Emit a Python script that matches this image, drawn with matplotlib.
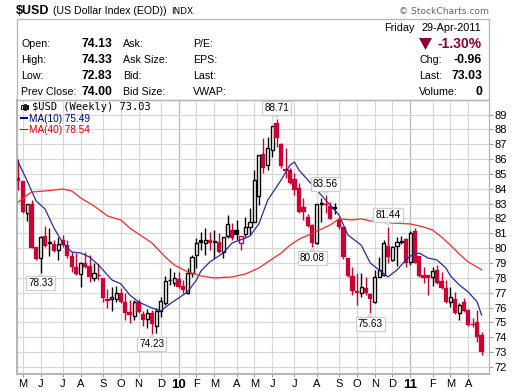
import matplotlib
matplotlib.use('Agg')

import matplotlib.pyplot as plt
from matplotlib.patches import Polygon, Rectangle

plt.rcParams['font.family'] = ['Liberation Sans', 'DejaVu Sans']

# Weekly candles, May 2009 - Apr 2011
opens = [84.72, 84.52, 82.38, 82.97, 80.08, 79.33, 80.8, 80.35, 80.28, 79.88, 80.55, 80.22, 79.47, 78.73, 78.26,
         79.0, 78.8, 77.99, 78.22, 77.99, 76.58, 76.58, 76.58, 76.98, 76.37, 75.7, 75.43, 76.37, 75.57, 75.23,
         75.63, 74.76, 75.77, 76.3, 77.82, 77.65, 77.92, 77.45, 76.98, 78.33, 79.54, 80.55, 80.36, 80.55, 80.43,
         80.41, 79.74, 80.82, 81.22, 81.22, 80.35, 80.95, 81.42, 81.76, 83.51, 86.34, 85.6, 86.61, 88.43, 87.02,
         85.33, 85.26, 84.66, 84.05, 82.77, 82.1, 81.56, 80.35, 82.95, 83.0, 82.84, 82.77, 81.9, 81.42, 79.33,
         78.13, 77.08, 76.98, 77.3, 76.9, 76.37, 78.06, 78.2, 80.14, 79.2, 80.14, 80.43, 80.62, 79.07, 81.16,
         79.47, 78.2, 78.2, 78.03, 78.53, 77.79, 77.32, 76.37, 76.58, 75.63, 76.37, 75.84, 74.9, 74.99, 74.13]
highs = [86.0, 84.55, 83.0, 83.24, 80.1, 80.8, 81.5, 81.35, 80.55, 80.75, 80.88, 80.55, 79.74, 79.67, 79.07,
         79.74, 79.54, 79.0, 78.95, 78.0, 77.25, 77.38, 77.45, 77.3, 76.98, 76.51, 76.51, 76.58, 75.77, 75.9,
         75.84, 75.97, 76.71, 78.12, 78.66, 78.4, 78.4, 77.86, 78.66, 79.54, 80.68, 81.07, 81.34, 81.07, 81.25,
         81.0, 80.75, 82.23, 81.7, 81.9, 80.85, 82.1, 82.69, 85.26, 86.3, 87.4, 87.48, 88.23, 88.71, 87.05,
         86.75, 85.4, 85.06, 84.39, 83.38, 82.3, 81.6, 83.0, 83.38, 83.56, 83.1, 83.04, 82.1, 81.45, 79.35,
         78.73, 78.3, 78.33, 78.06, 77.0, 78.53, 79.4, 80.55, 81.44, 80.15, 80.75, 80.8, 80.68, 81.16, 81.36,
         79.5, 78.73, 78.2, 78.73, 78.87, 78.4, 77.86, 77.38, 77.05, 76.3, 76.64, 75.9, 75.3, 75.84, 74.33]
lows = [83.92, 82.4, 81.85, 80.0, 79.2, 78.33, 80.1, 79.5, 79.75, 79.2, 80.1, 79.35, 78.4, 78.2, 77.38,
        78.66, 77.72, 77.79, 77.86, 76.37, 75.97, 75.77, 76.37, 76.3, 75.16, 74.96, 75.16, 75.63, 74.76, 74.62,
        74.23, 74.29, 75.36, 76.17, 77.52, 77.45, 77.32, 76.98, 76.9, 78.06, 78.66, 79.88, 79.54, 79.88, 79.33,
        79.67, 79.33, 80.68, 80.55, 80.55, 79.88, 80.75, 80.88, 81.74, 82.9, 85.07, 85.26, 86.14, 86.81, 85.4,
        84.72, 84.3, 83.58, 82.4, 81.9, 81.4, 80.08, 80.3, 81.77, 82.4, 81.95, 82.3, 81.3, 79.3, 78.05,
        76.85, 76.17, 76.7, 76.85, 75.63, 76.3, 78.03, 78.1, 79.0, 79.13, 78.8, 80.25, 78.75, 78.87, 78.98,
        78.05, 77.65, 76.85, 77.45, 77.58, 77.25, 76.3, 76.04, 75.55, 75.16, 75.7, 74.76, 74.7, 73.68, 72.83]
closes = [84.52, 82.42, 82.97, 80.0, 79.27, 80.75, 80.15, 80.4, 79.83, 80.28, 80.22, 79.47, 78.73, 78.26, 79.0,
          78.73, 78.06, 78.33, 78.15, 76.64, 76.46, 76.71, 76.98, 76.37, 75.63, 75.5, 76.37, 75.7, 75.16, 75.63,
          74.89, 75.77, 76.44, 77.79, 77.86, 77.99, 77.38, 77.18, 78.33, 79.4, 80.34, 80.34, 80.58, 80.36, 80.46,
          79.74, 80.75, 81.63, 80.68, 80.88, 80.82, 81.42, 81.76, 84.59, 86.27, 85.4, 86.74, 88.2, 87.42, 85.53,
          85.2, 84.39, 83.92, 82.45, 82.42, 81.5, 80.35, 82.97, 83.04, 82.9, 81.97, 82.64, 81.42, 79.4, 78.13,
          77.12, 76.97, 77.38, 76.98, 76.58, 78.06, 78.53, 80.35, 79.4, 80.08, 80.41, 80.46, 79.0, 81.0, 79.0,
          78.13, 78.0, 77.98, 78.46, 77.65, 77.32, 76.37, 76.71, 75.63, 76.17, 75.77, 74.82, 74.8, 74.0, 73.03]

ma10_weeks = [0, 2, 4, 6, 8, 10, 12, 14, 16, 18, 21, 23, 25, 27, 30, 32, 34, 36, 38, 40, 41, 43, 46, 48, 51, 52,
              54, 56, 59, 61, 62, 63, 65, 68, 70, 72, 74, 77, 79, 81, 83, 85, 87, 88, 90, 92, 94, 96, 97, 99, 101, 103, 104]
ma10_vals = [85.8, 84.52, 83.18, 82.64, 81.36, 80.35, 79.74, 79.67, 79.4, 78.87, 77.86, 77.6, 76.85, 76.37, 75.97,
             75.77, 76.24, 76.64, 77.05, 77.86, 78.46, 79.07, 79.67, 80.35, 80.68, 80.82, 81.63, 83.24, 84.59, 85.6,
             85.8, 85.26, 84.59, 83.58, 82.9, 82.23, 80.88, 80.2, 79.0, 78.53, 78.06, 78.53, 79.2, 79.47, 79.67,
             79.33, 79.2, 78.66, 78.13, 77.52, 77.05, 76.37, 75.49]
ma40_weeks = [0, 2, 3, 6, 10, 12, 14, 17, 20, 23, 25, 26, 30, 33, 35, 38, 41, 44, 48, 51, 54, 56, 59, 61, 63, 66,
              70, 72, 75, 77, 79, 83, 88, 91, 93, 95, 97, 99, 101, 104]
ma40_vals = [83.1, 83.58, 83.78, 83.85, 83.98, 83.85, 83.38, 82.84, 82.17, 81.9, 81.36, 81.15, 80.35, 79.4, 78.87,
             78.4, 78.13, 77.99, 78.06, 78.26, 78.66, 79.07, 79.67, 80.2, 80.6, 81.0, 81.56, 81.97, 81.9, 81.97,
             81.83, 81.7, 81.63, 81.42, 81.22, 80.75, 80.2, 79.6, 79.07, 78.54]

month_weeks = [1, 5, 10, 14, 19, 23, 27, 32, 36, 40, 44, 49, 53, 57, 62, 67, 72, 76, 80, 84, 88, 93, 97, 101]
month_labels = ['M', 'J', 'J', 'A', 'S', 'O', 'N', 'D', '10', 'F', 'M', 'A', 'M', 'J', 'J', 'A', 'S', 'O', 'N', 'D',
                '11', 'F', 'M', 'A']
price_ticks = list(range(72, 90))

# Callouts: week, price, text, offset of the box in pixels
callouts = [(5, 78.33, '78.33', 0, -10.5), (30, 74.23, '74.23', 0, -10.5), (58, 88.71, '88.71', 0, 10.5),
            (69, 83.56, '83.56', 0, 11), (66, 80.08, '80.08', 0, -11), (79, 75.63, '75.63', 0, -11),
            (83, 81.44, '81.44', 0, 11.5)]

RED = '#cc0033'
GRID = '#d8d8d8'
BORDER = '#b4b4b4'


def fx(x):
    return x / 520


def fy(y):
    return 1 - y / 391


fig = plt.figure(figsize=(5.2, 3.91), dpi=100, facecolor='white')
ax = fig.add_axes([fx(16.5), fy(374), fx(472), 274 / 391])
ax.set_xlim(-0.4, 105.55)
ax.set_ylim(71.52, 89.98)

# Grid
ax.set_axisbelow(True)
ax.set_yticks(price_ticks)
ax.set_xticks(month_weeks)
ax.set_xticklabels(month_labels, fontsize=8)
for lab, txt in zip(ax.get_xticklabels(), month_labels):
    if txt in ('10', '11'):
        lab.set_fontweight('bold')
        lab.set_fontsize(9.5)
ax.grid(True, color=GRID, lw=0.9)
for gl, txt in zip(ax.get_xgridlines(), month_labels):
    if txt in ('10', '11'):
        gl.set_color('#b8b8b8')
ax.yaxis.tick_right()
ax.tick_params(axis='y', length=3, width=0.7, color='#999999', labelsize=8, pad=1)
ax.tick_params(axis='x', length=2, width=0.7, color='#999999', pad=1.5)
for name, spine in ax.spines.items():
    spine.set_color(BORDER)
    spine.set_linewidth(1.4 if name in ('left', 'bottom') else 0.9)

# Candles
for i in range(len(closes)):
    prev = closes[i - 1] if i else opens[0]
    col = RED if closes[i] < prev else 'black'
    ax.vlines(i, lows[i], highs[i], color=col, lw=1.0, zorder=3)
    bottom = min(opens[i], closes[i])
    height = max(abs(closes[i] - opens[i]), 0.04)
    if closes[i] > opens[i]:
        ax.bar(i, height, bottom=bottom, width=0.72, facecolor='white', edgecolor=col, lw=1.0, zorder=4)
    else:
        ax.bar(i, height, bottom=bottom, width=0.98, facecolor=col, edgecolor=col, lw=0.2, zorder=4)

ax.plot(ma10_weeks, ma10_vals, color='#2a2a9c', lw=0.9, zorder=5)
ax.plot(ma40_weeks, ma40_vals, color='#f22c2c', lw=0.9, zorder=5)

for week, price, text, dx, dy in callouts:
    ax.annotate(text, xy=(week, price), xytext=(dx * 0.72, dy * 0.72), textcoords='offset points',
                ha='center', va='center', fontsize=7.2, color='black', zorder=7, annotation_clip=False,
                bbox=dict(boxstyle='square,pad=0.2', fc='white', ec='#cfcfcf', lw=0.9),
                arrowprops=dict(arrowstyle='wedge,tail_width=0.45', fc='white', ec='#cfcfcf', lw=0.7, shrinkA=0, shrinkB=1))

# Header panel
fig.add_artist(Rectangle((fx(16.5), fy(100)), fx(472), 81 / 391, transform=fig.transFigure,
                         fc='none', ec=BORDER, lw=0.9))


def label(x, y, s, size=8, ha='left', **kw):
    fig.text(fx(x), fy(y), s, fontsize=size, ha=ha, va='center', **kw)


label(16, 11.5, '$USD', size=9, fontweight='bold')
label(53, 11.5, '(US Dollar Index (EOD))', size=7.6)
label(171, 11.5, 'INDX', size=6.4, family='DejaVu Sans')
label(399, 11.5, '© StockCharts.com', size=6.6, color='#666666', family='DejaVu Sans')

rows_y = [44, 60, 76, 92]
label_col1 = ['Open:', 'High:', 'Low:', 'Prev Close:']
value_col1 = ['74.13', '74.33', '72.83', '74.00']
label_col2 = ['Ask:', 'Ask Size:', 'Bid:', 'Bid Size:']
label_col3 = ['P/E:', 'EPS:', 'Last:', 'VWAP:']
for y, a, b, c, d in zip(rows_y, label_col1, value_col1, label_col2, label_col3):
    label(21, y, a, size=7.7)
    label(112.5, y, b, size=8.8, ha='right', fontweight='bold')
    label(123, y, c, size=7.7)
    label(193, y, d, size=7.7)

label(384.5, 28, 'Friday', size=7.8)
label(481.5, 28, '29-Apr-2011', size=7.8, ha='right')
label(482, 44, '-1.30%', size=10, ha='right', fontweight='bold', color='#8b0033')
fig.add_artist(Polygon([(fx(419), fy(38)), (fx(432), fy(38)), (fx(425.5), fy(50))], transform=fig.transFigure,
                       fc='#8b0033', ec='none'))
label(419, 60, 'Chg:', size=7.7)
label(482, 60, '-0.96', size=8.8, ha='right', fontweight='bold')
label(419, 76, 'Last:', size=7.7)
label(482, 76, '73.03', size=8.8, ha='right', fontweight='bold')
label(419, 92, 'Volume:', size=7.7)
label(482, 92, '0', size=8.8, ha='right', fontweight='bold')

# Legend
label(32, 107.5, '$USD (Weekly) 73.03', size=7.5, family='DejaVu Sans Mono')
label(29, 119, 'MA(10) 75.49', size=7.2, color='#000080')
label(29, 130, 'MA(40) 78.54', size=7.2, color='#e00000')
fig.add_artist(Rectangle((fx(19.5), fy(118.5)), fx(8), 1.5 / 391, transform=fig.transFigure, fc='#000080', ec='none'))
fig.add_artist(Rectangle((fx(19.5), fy(130)), fx(8), 1.5 / 391, transform=fig.transFigure, fc='#e00000', ec='none'))
fig.add_artist(Rectangle((fx(20.5), fy(109)), fx(2), 4 / 391, transform=fig.transFigure, fc='none', ec='black', lw=0.7))
fig.add_artist(Rectangle((fx(24), fy(110)), fx(1.6), 6 / 391, transform=fig.transFigure, fc='black', ec='black', lw=0.5))
fig.add_artist(Rectangle((fx(26.5), fy(109)), fx(1.6), 4 / 391, transform=fig.transFigure, fc='none', ec='black', lw=0.7))

fig.savefig('out.png', dpi=100)
